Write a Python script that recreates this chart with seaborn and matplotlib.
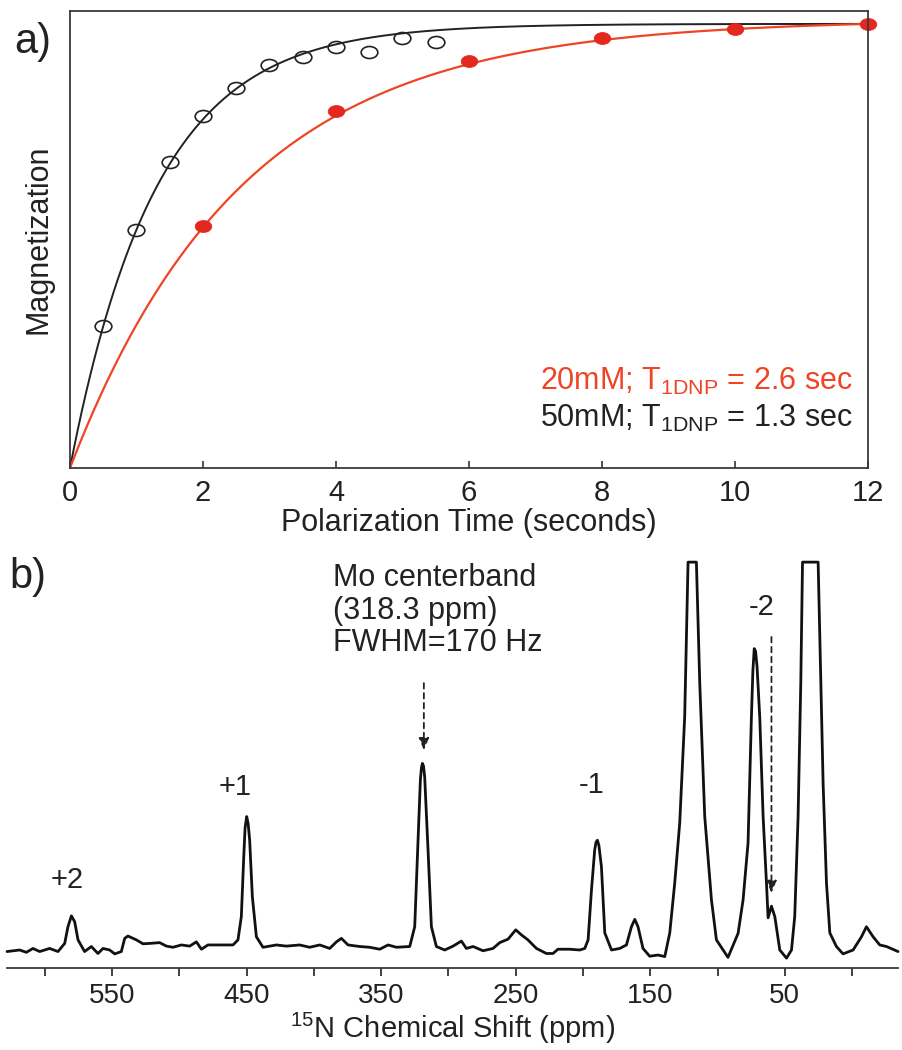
import numpy as np
import matplotlib
matplotlib.use("Agg")
import matplotlib.pyplot as plt
import seaborn as sns
from matplotlib.path import Path
from matplotlib.transforms import Affine2D

# ---- panel a: DNP build-up ----
T_50MM = [0.5, 1.0, 1.5, 2.0, 2.5, 3.0, 3.5, 4.0, 4.5, 5.0, 5.5]
M_50MM = [0.320, 0.536, 0.689, 0.793, 0.856, 0.908, 0.926, 0.948, 0.937, 0.968, 0.959]
T_20MM = [2, 4, 6, 8, 10, 12]
M_20MM = [0.545, 0.804, 0.917, 0.968, 0.989, 1.0]
T1_20MM = 2.6
T1_50MM = 1.3
TIME_TICKS = [0, 2, 4, 6, 8, 10, 12]

# ---- panel b: 15N spectrum (traced) ----
PPM = [628.2, 618.8, 613.8, 608.9, 603.9, 596.5, 590.3, 585.3, 582.9, 580.3, 577.9, 575.4,
       570.5, 565.5, 560.6, 556.8, 551.9, 548.1, 543.2, 540.7, 538.3, 532.0, 527.1, 522.1,
       514.7, 509.7, 504.8, 498.6, 492.4, 487.4, 483.7, 478.8, 470.1, 460.2, 456.5, 454.0,
       452.2, 451.2, 450.0, 448.9, 447.8, 445.8, 442.8, 437.9, 427.9, 420.5, 410.6, 403.2,
       395.7, 388.3, 383.3, 379.6, 374.7, 366.0, 358.6, 351.1, 344.9, 338.7, 328.8, 325.1,
       322.6, 320.9, 320.1, 319.4, 318.6, 317.7, 315.2, 312.7, 309.0, 302.8, 296.6, 290.4,
       286.7, 281.7, 274.3, 266.9, 261.9, 255.7, 250.0, 245.8, 240.9, 234.6, 227.2, 222.3,
       218.6, 209.9, 202.4, 198.7, 196.2, 193.7, 191.3, 190.3, 189.3, 188.2, 186.3, 183.8,
       178.8, 172.7, 167.7, 164.0, 161.5, 159.1, 155.4, 150.4, 144.2, 139.2, 135.5, 131.8,
       128.1, 124.4, 121.9, 115.7, 113.2, 109.5, 104.5, 100.8, 92.2, 84.7, 81.0, 77.3,
       74.8, 73.7, 72.7, 71.7, 70.6, 68.6, 66.1, 63.6, 62.4, 59.9, 57.4, 53.7,
       48.7, 45.0, 42.6, 40.1, 38.1, 36.8, 25.2, 24.0, 21.5, 19.0, 16.5, 11.6,
       6.7, -0.8, -7.0, -10.7, -15.7, -20.6, -25.6, -34.2]
INTENSITY = [-0.4, 0.0, -0.6, 0.4, -0.4, 0.4, -0.4, 1.7, 6.0, 8.8, 7.3, 2.6,
             -0.4, 0.9, -0.9, 0.4, 0.0, -1.0, -0.4, 3.0, 3.6, 2.6, 1.6, 1.7,
             1.9, 1.0, 0.7, 1.3, 1.0, 2.1, 0.2, 1.3, 1.3, 1.3, 2.6, 8.6,
             24.0, 31.5, 34.4, 32.5, 28.3, 13.7, 3.4, 0.7, 1.3, 1.0, 1.3, 0.7,
             1.3, 0.4, 2.1, 3.0, 1.3, 0.9, 0.7, 0.2, 1.3, 0.7, 0.9, 6.0,
             28.3, 43.8, 47.0, 48.1, 47.5, 44.7, 25.8, 6.0, 0.9, 0.0, 1.0, 2.3,
             0.4, 0.9, -0.2, 0.4, 1.9, 2.8, 5.2, 3.9, 2.6, 0.4, -0.9, -0.9,
             0.2, 0.2, 0.0, 0.4, 2.6, 15.5, 25.8, 27.8, 28.3, 27.0, 21.5, 4.4,
             0.0, 0.4, 1.3, 6.0, 7.9, 6.0, 0.4, -1.6, -1.3, -1.7, 4.4, 17.3,
             32.7, 60.1, 100, 100, 68.8, 34.4, 12.9, 2.6, -1.9, 4.3, 12.9, 27.6,
             60.1, 72.0, 77.7, 77.0, 73.0, 60.1, 34.4, 17.2, 8.3, 11.3, 8.6, 0.0,
             -2.1, 0.0, 8.6, 34.4, 68.8, 100, 100, 81.7, 43.0, 17.3, 4.4, 0.9,
             -1.0, 0.0, 3.4, 6.0, 3.4, 1.3, 0.9, -0.4]
PPM_MAJOR = [550, 450, 350, 250, 150, 50]
PPM_MINOR = [600, 500, 400, 300, 200, 100, 0]
MO_CENTER = 318.3
MINUS2_PPM = 59.9

RED_LINE = "#ef4426"
RED_DOT = "#e4281e"
INK = "#222222"

sns.set_theme(style="white")
plt.rcParams["font.family"] = ["Liberation Sans", "DejaVu Sans"]
plt.rcParams["mathtext.fontset"] = "custom"
plt.rcParams["mathtext.rm"] = "Liberation Sans"

ellipse = Path.unit_circle().transformed(Affine2D().scale(1.0, 0.72))

fig = plt.figure(figsize=(9.03, 10.5), dpi=100)

# ---------- panel a ----------
ax1 = fig.add_axes([0.0775, 0.5543, 0.8837, 0.4352])
t = np.linspace(0, 12, 400)
fit50 = (1 - np.exp(-t / T1_50MM)) / (1 - np.exp(-12 / T1_50MM))
fit20 = (1 - np.exp(-t / T1_20MM)) / (1 - np.exp(-12 / T1_20MM))
sns.lineplot(x=t, y=fit50, ax=ax1, color=INK, lw=1.4, estimator=None)
sns.lineplot(x=t, y=fit20, ax=ax1, color=RED_LINE, lw=1.6, estimator=None)
sns.lineplot(x=T_50MM, y=M_50MM, ax=ax1, estimator=None, linestyle="none",
             marker=ellipse, markersize=12, markerfacecolor="none",
             markeredgecolor=INK, markeredgewidth=1.2)
sns.lineplot(x=T_20MM, y=M_20MM, ax=ax1, estimator=None, linestyle="none",
             marker=ellipse, markersize=12, markerfacecolor=RED_DOT,
             markeredgecolor=RED_DOT, markeredgewidth=0.5, clip_on=False)
ax1.set_xlim(0, 12)
ax1.set_ylim(0, 1.029)
ax1.set_xticks(TIME_TICKS)
ax1.set_yticks([])
ax1.tick_params(axis="x", direction="in", length=5, width=1.2, color="#333333",
                labelsize=21, pad=8, labelcolor=INK, bottom=True)
for s in ax1.spines.values():
    s.set_color("#3a3a3a")
    s.set_linewidth(1.3)
ax1.set_xlabel("Polarization Time (seconds)", fontsize=22, color=INK, labelpad=1)
ax1.set_ylabel("Magnetization", fontsize=22, color=INK, labelpad=12)
ax1.text(0.981, 0.1707, r"20mM; $\mathrm{T_{1DNP}}$ = 2.6 sec", transform=ax1.transAxes,
         ha="right", va="baseline", fontsize=22, color=RED_LINE)
ax1.text(0.981, 0.0897, r"50mM; $\mathrm{T_{1DNP}}$ = 1.3 sec", transform=ax1.transAxes,
         ha="right", va="baseline", fontsize=22, color=INK)

# ---------- panel b ----------
ax2 = fig.add_axes([0.00775, 0.0781, 0.98675, 0.398])
sns.lineplot(x=PPM, y=INTENSITY, ax=ax2, color="#111111", lw=2.0,
             estimator=None, sort=False, clip_on=False)
ax2.set_xlim(628.2, -34.2)
ax2.set_ylim(-4.64, 103.1)
ax2.set_xticks(PPM_MAJOR)
ax2.set_xticks(PPM_MINOR, minor=True)
ax2.set_yticks([])
ax2.tick_params(axis="x", which="both", direction="out", length=6, width=1.3,
                color="#333333", bottom=True, labelsize=20, pad=5, labelcolor=INK)
for side in ["top", "left", "right"]:
    ax2.spines[side].set_visible(False)
ax2.spines["bottom"].set_color("#3a3a3a")
ax2.spines["bottom"].set_linewidth(1.3)
ax2.set_xlabel(r"$^{15}$N Chemical Shift (ppm)", fontsize=21, color=INK, labelpad=1)

lab_kw = dict(fontsize=21, color=INK, ha="center", va="center")
ax2.text(583.8, 18.0, "+2", **lab_kw)
ax2.text(458.9, 42.0, "+1", **lab_kw)
ax2.text(193.5, 42.5, "-1", **lab_kw)
ax2.text(67.1, 88.4, "-2", **lab_kw)
ax2.text(386.1, 87.5, "Mo centerband\n(318.3 ppm)\nFWHM=170 Hz", fontsize=22,
         color=INK, ha="left", va="center", linespacing=1.1)

arrow_kw = dict(arrowstyle="-|>,head_length=0.6,head_width=0.25", color=INK,
                lw=1.3, linestyle=(0, (3, 2.5)), shrinkA=0, shrinkB=0)
ax2.annotate("", xy=(MO_CENTER, 51.5), xytext=(MO_CENTER, 68.8), arrowprops=arrow_kw)
ax2.annotate("", xy=(MINUS2_PPM, 14.7), xytext=(MINUS2_PPM, 80.7), arrowprops=arrow_kw)

fig.text(0.0365, 0.960, "a)", fontsize=30, color=INK, ha="center", va="center")
fig.text(0.031, 0.4505, "b)", fontsize=30, color=INK, ha="center", va="center")

fig.savefig("out.png", dpi=100)
